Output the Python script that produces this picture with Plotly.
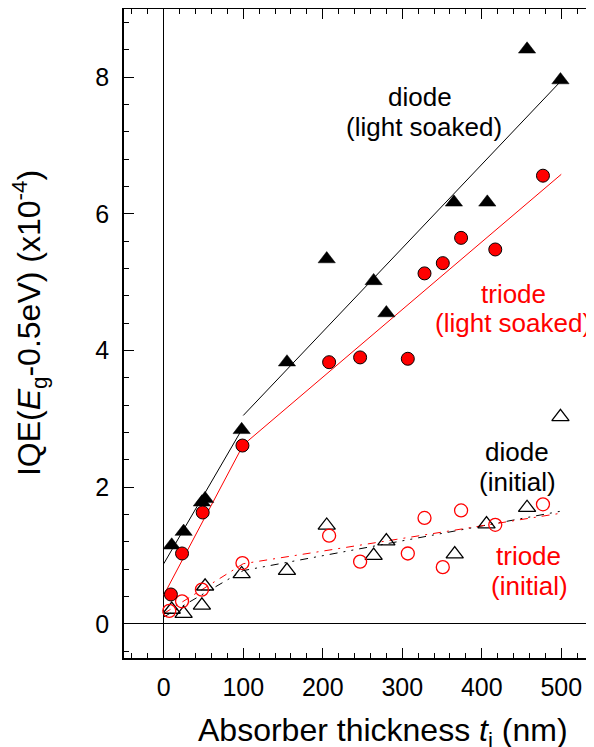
import plotly.graph_objects as go

# ---------------- data ----------------
diode_ls_x = [10, 25, 48, 52, 98, 155, 205, 264, 280, 365, 407, 457, 499]
diode_ls_y = [1.15, 1.35, 1.78, 1.83, 2.84, 3.83, 5.34, 5.02, 4.55, 6.17, 6.17, 8.41, 7.96]

triode_ls_x = [9, 23, 49, 99, 208, 247, 307, 328, 351, 374, 417, 477]
triode_ls_y = [0.43, 1.03, 1.63, 2.61, 3.83, 3.90, 3.88, 5.13, 5.28, 5.65, 5.48, 6.56]

diode_in_x = [10, 25, 48, 52, 98, 155, 205, 264, 280, 366, 406, 457, 499]
diode_in_y = [0.21, 0.15, 0.27, 0.55, 0.73, 0.78, 1.44, 1.00, 1.21, 1.02, 1.46, 1.70, 3.03]

triode_in_x = [7, 23, 48, 99, 208, 247, 307, 328, 351, 374, 417, 477]
triode_in_y = [0.19, 0.33, 0.50, 0.89, 1.29, 0.91, 1.03, 1.55, 0.83, 1.66, 1.45, 1.75]

# fitted lines
diode_ls_fit1_x = [0, 100]
diode_ls_fit1_y = [0.88, 2.88]
diode_ls_fit2_x = [100, 500]
diode_ls_fit2_y = [3.05, 7.95]
triode_ls_fit_x = [0, 100, 500]
triode_ls_fit_y = [0.42, 2.62, 6.58]
diode_in_fit_x = [0, 100, 500]
diode_in_fit_y = [0.10, 0.78, 1.65]
triode_in_fit_x = [0, 100, 500]
triode_in_fit_y = [0.15, 0.88, 1.62]

x_title = "Absorber thickness <i>t</i><sub>i</sub> (nm)"
y_title = "IQE(<i>E</i><sub>g</sub>-0.5eV) (x10<sup>-4</sup>)"

RED = "#ff0000"
FONT = "Liberation Sans, Arial, sans-serif"

fig = go.Figure()

# fit lines
fig.add_trace(go.Scatter(x=diode_ls_fit1_x, y=diode_ls_fit1_y, mode="lines",
                         line=dict(color="black", width=1)))
fig.add_trace(go.Scatter(x=diode_ls_fit2_x, y=diode_ls_fit2_y, mode="lines",
                         line=dict(color="black", width=1)))
fig.add_trace(go.Scatter(x=triode_ls_fit_x, y=triode_ls_fit_y, mode="lines",
                         line=dict(color=RED, width=1)))
fig.add_trace(go.Scatter(x=diode_in_fit_x, y=diode_in_fit_y, mode="lines",
                         line=dict(color="black", width=1, dash="8px,6px,2px,6px,2px,6px")))
fig.add_trace(go.Scatter(x=triode_in_fit_x, y=triode_in_fit_y, mode="lines",
                         line=dict(color=RED, width=1, dash="8px,6px,2px,6px")))

# markers
fig.add_trace(go.Scatter(x=diode_in_x, y=diode_in_y, mode="markers",
                         marker=dict(symbol="triangle-up-open", size=15, color="black",
                                     line=dict(width=1.3, color="black"))))
fig.add_trace(go.Scatter(x=triode_in_x, y=triode_in_y, mode="markers",
                         marker=dict(symbol="circle-open", size=13, color=RED,
                                     line=dict(width=1.3, color=RED))))
fig.add_trace(go.Scatter(x=diode_ls_x, y=diode_ls_y, mode="markers",
                         marker=dict(symbol="triangle-up", size=15, color="black",
                                     line=dict(width=0.5, color="black"))))
fig.add_trace(go.Scatter(x=triode_ls_x, y=triode_ls_y, mode="markers",
                         marker=dict(symbol="circle", size=13, color=RED,
                                     line=dict(width=1, color="black"))))

labels = [
    ("diode", 322, 7.71, "black"),
    ("(light soaked)", 327, 7.27, "black"),
    ("triode", 440, 4.83, RED),
    ("(light soaked)", 439, 4.41, RED),
    ("diode", 444, 2.51, "black"),
    ("(initial)", 445, 2.08, "black"),
    ("triode", 459, 1.00, RED),
    ("(initial)", 460, 0.56, RED),
]
for txt, lx, ly, col in labels:
    fig.add_annotation(x=lx, y=ly, xref="x", yref="y", text=txt, showarrow=False,
                       font=dict(family=FONT, size=26, color=col),
                       xanchor="center", yanchor="middle")

# axis titles (placed as paper-anchored text so they can sit where the reference has them)
fig.add_annotation(x=0.551, y=0, xref="paper", yref="paper", yshift=-74,
                   text=x_title, showarrow=False,
                   font=dict(family=FONT, size=32, color="black"),
                   xanchor="center", yanchor="middle")
fig.add_annotation(x=0, y=0.516, xref="paper", yref="paper", xshift=-95,
                   text=y_title, showarrow=False, textangle=-90,
                   font=dict(family=FONT, size=32, color="black"),
                   xanchor="center", yanchor="middle")

def axis_style(mirror):
    return dict(
        ticks="inside", ticklen=10, tickwidth=1.3, tickcolor="black",
        showline=True, linecolor="black", linewidth=1.5, mirror=mirror,
        zeroline=True, zerolinecolor="black", zerolinewidth=1,
        showgrid=False, automargin=False,
        tickfont=dict(family=FONT, size=25, color="black"),
    )

# the page body has an 8px default margin, so the figure is 8px smaller
fig.update_layout(
    width=586, height=739,
    margin=dict(l=116, r=0, t=1, b=89, autoexpand=False),
    paper_bgcolor="white", plot_bgcolor="white",
    showlegend=False,
    font=dict(family=FONT, size=25, color="black"),
    xaxis=dict(range=[-50, 541.2], tickmode="linear", tick0=0, dtick=100,
               ticklabelstandoff=6,
               minor=dict(dtick=20, tick0=0, ticklen=5, tickwidth=1.3, tickcolor="black", ticks="inside"),
               **axis_style("ticks")),
    yaxis=dict(range=[-0.5, 9], tickmode="linear", tick0=0, dtick=2,
               ticklabelstandoff=8,
               minor=dict(dtick=0.4, tick0=0, ticklen=5, tickwidth=1.3, tickcolor="black", ticks="inside"),
               **axis_style(False)),
)

fig.write_html("out.html")
